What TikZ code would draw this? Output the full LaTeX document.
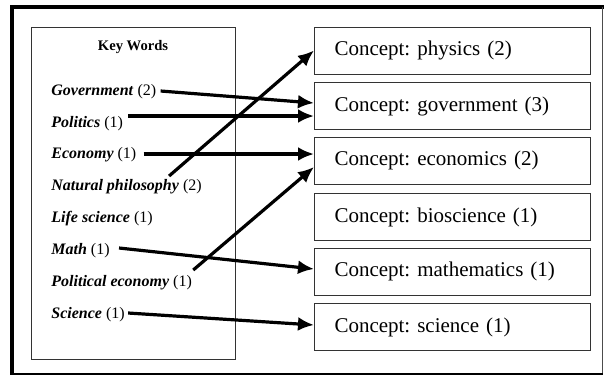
\documentclass[tikz,border=0pt]{standalone}
\usepackage{fontspec}
\setmainfont{Liberation Serif}
\usetikzlibrary{arrows.meta,calc}
\frenchspacing

\begin{document}
\begin{tikzpicture}[x=0.5pt,y=-0.5pt,>={Latex[length=8pt,width=7pt]},
	concept/.style = {draw=black!80,line width=0.5pt,anchor=west,minimum width=138pt,minimum height=23.5pt,inner xsep=10pt,text width=118pt,align=left,font=\fontsize{10.5}{12}\selectfont},
	kw/.style = {anchor=west,inner sep=0pt,font=\fontsize{8}{9.6}\selectfont},
	link/.style = {->,line width=1.6pt}
	]
	\useasboundingbox (0,0) rectangle (604,376);
	%CORNICE
	\draw[line width=2pt] (12,374.5) -- (12,7) -- (603.5,7);
	\draw[line width=0.75pt,black!70] (602.5,7) -- (602.5,373.5);
	\draw[line width=1pt] (12,373.5) -- (603,373.5);
	%KEY WORDS
	\node[draw=black!80,line width=0.5pt,minimum width=102pt,minimum height=166pt,anchor=north west,inner sep=0pt] (kwbox) at (31,27) {};
	\node[font=\fontsize{7.3}{8.8}\selectfont\bfseries] (title) at (133,47) {Key Words};
	\node[kw] (gov) at (51,92) {\textbf{\textit{Government}} (2)};
	\node[kw] (pol) at (51,123.5) {\textbf{\textit{Politics}} (1)};
	\node[kw] (eco) at (51,155) {\textbf{\textit{Economy}} (1)};
	\node[kw] (natphil) at (51,187) {\textbf{\textit{Natural philosophy}} (2)};
	\node[kw] (life) at (51,219) {\textbf{\textit{Life science}} (1)};
	\node[kw] (math) at (51,251) {\textbf{\textit{Math}} (1)};
	\node[kw] (polecon) at (51,283) {\textbf{\textit{Political economy}} (1)};
	\node[kw] (sci) at (51,315) {\textbf{\textit{Science}} (1)};
	%CONCETTI
	\node[concept] (cphys) at (314,50.5) {Concept: physics (2)};
	\node[concept] (cgov) at (314,106) {Concept: government (3)};
	\node[concept] (ceco) at (314,160.5) {Concept: economics (2)};
	\node[concept] (cbio) at (314,217) {Concept: bioscience (1)};
	\node[concept] (cmath) at (314,271.5) {Concept: mathematics (1)};
	\node[concept] (csci) at (314,327) {Concept: science (1)};
	%FRECCE
	\draw[link] ($(gov.east)+(4,-1)$) -- ($(cgov.west)+(0,-3)$);
	\draw[link] ($(pol.east)+(5,-7.5)$) -- ($(cgov.west)+(0,10)$);
	\draw[link] ($(eco.east)+(7,-1)$) -- ($(ceco.west)+(0,-6.5)$);
	\draw[link] ($(natphil.east)+(-33,-11)$) -- (cphys.west);
	\draw[link] ($(polecon.east)+(1,-13)$) -- ($(ceco.west)+(0,6.5)$);
	\draw[link] ($(math.east)+(9,-3)$) -- ($(cmath.west)+(0,-2.5)$);
	\draw[link] ($(sci.east)+(3,-2)$) -- ($(csci.west)+(0,-2)$);
\end{tikzpicture}
\end{document}
